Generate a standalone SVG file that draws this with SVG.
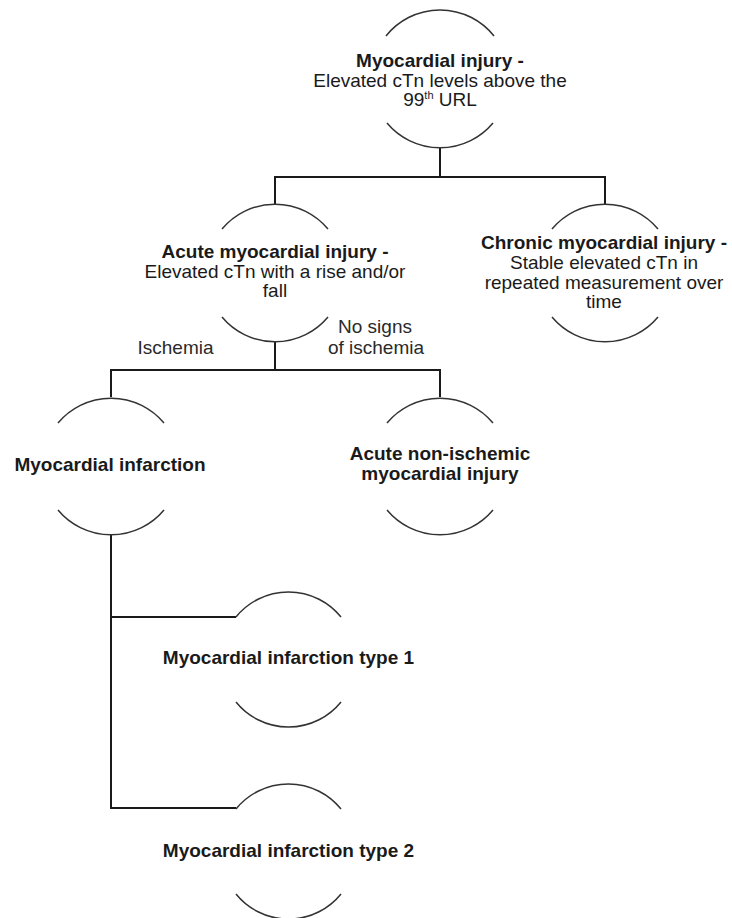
<svg xmlns="http://www.w3.org/2000/svg" width="732" height="918" viewBox="0 0 732 918">
<style>
.arc{fill:none;stroke:#333;stroke-width:1.5}
.con{fill:none;stroke:#1a1a1a;stroke-width:2}
text{font-family:"Liberation Sans",Arial,sans-serif;font-size:19px;fill:#1a1a1a;text-anchor:middle}
.b{font-weight:bold}
.lbl{fill:#2a2a2a}
</style>
<rect width="732" height="918" fill="#fff"/>
<g id="connectors">
<path class="con" d="M440 148 V177" stroke-width="3"/>
<path class="con" d="M275 204 V177 H605 V204"/>
<path class="con" d="M275 342 V370"/>
<path class="con" d="M111 397 V370 H440 V397"/>
<path class="con" d="M111 535 V808 H236"/>
<path class="con" d="M111 617 H236"/>
<text class="lbl" x="175.5" y="354">Ischemia</text>
<text class="lbl" x="375" y="333">No signs</text>
<text class="lbl" x="376" y="354">of ischemia</text>
</g>
<g id="node-myocardial-injury">
<path class="arc" d="M386 36 A69 69 0 0 1 494 36"/>
<path class="arc" d="M387 123 A69 69 0 0 0 493 123"/>
<text x="440" y="67" class="b">Myocardial injury -</text>
<text x="440" y="86.5">Elevated cTn levels above the</text>
<text x="440" y="106">99<tspan font-size="11" dy="-7">th</tspan><tspan dy="7"> URL</tspan></text>
</g>
<g id="node-acute">
<path class="arc" d="M222 229 A69 69 0 0 1 328 229"/>
<path class="arc" d="M222 317 A69 69 0 0 0 328 317"/>
<text x="275" y="258" class="b">Acute myocardial injury -</text>
<text x="275" y="278">Elevated cTn with a rise and/or</text>
<text x="275" y="297">fall</text>
</g>
<g id="node-chronic">
<path class="arc" d="M552 229 A69 69 0 0 1 658 229"/>
<path class="arc" d="M552 317 A69 69 0 0 0 658 317"/>
<text x="604" y="249" class="b">Chronic myocardial injury -</text>
<text x="604" y="269">Stable elevated cTn in</text>
<text x="604" y="288.5">repeated measurement over</text>
<text x="604" y="308">time</text>
</g>
<g id="node-mi">
<path class="arc" d="M58 423 A69 69 0 0 1 164 423"/>
<path class="arc" d="M58 510 A69 69 0 0 0 164 510"/>
<text x="110" y="471" class="b">Myocardial infarction</text>
</g>
<g id="node-non-ischemic">
<path class="arc" d="M387 423 A69 69 0 0 1 493 423"/>
<path class="arc" d="M387 510 A69 69 0 0 0 493 510"/>
<text x="440" y="460" class="b">Acute non-ischemic</text>
<text x="440" y="479.5" class="b">myocardial injury</text>
</g>
<g id="node-mi-type1">
<path class="arc" d="M236 617 A67.5 67.5 0 0 1 341 617"/>
<path class="arc" d="M236 702 A67.5 67.5 0 0 0 341 702"/>
<text x="288.5" y="664" class="b">Myocardial infarction type 1</text>
</g>
<g id="node-mi-type2">
<path class="arc" d="M236 809 A67.5 67.5 0 0 1 341 809"/>
<path class="arc" d="M236 894 A67.5 67.5 0 0 0 341 894"/>
<text x="288.5" y="857" class="b">Myocardial infarction type 2</text>
</g>
</svg>
